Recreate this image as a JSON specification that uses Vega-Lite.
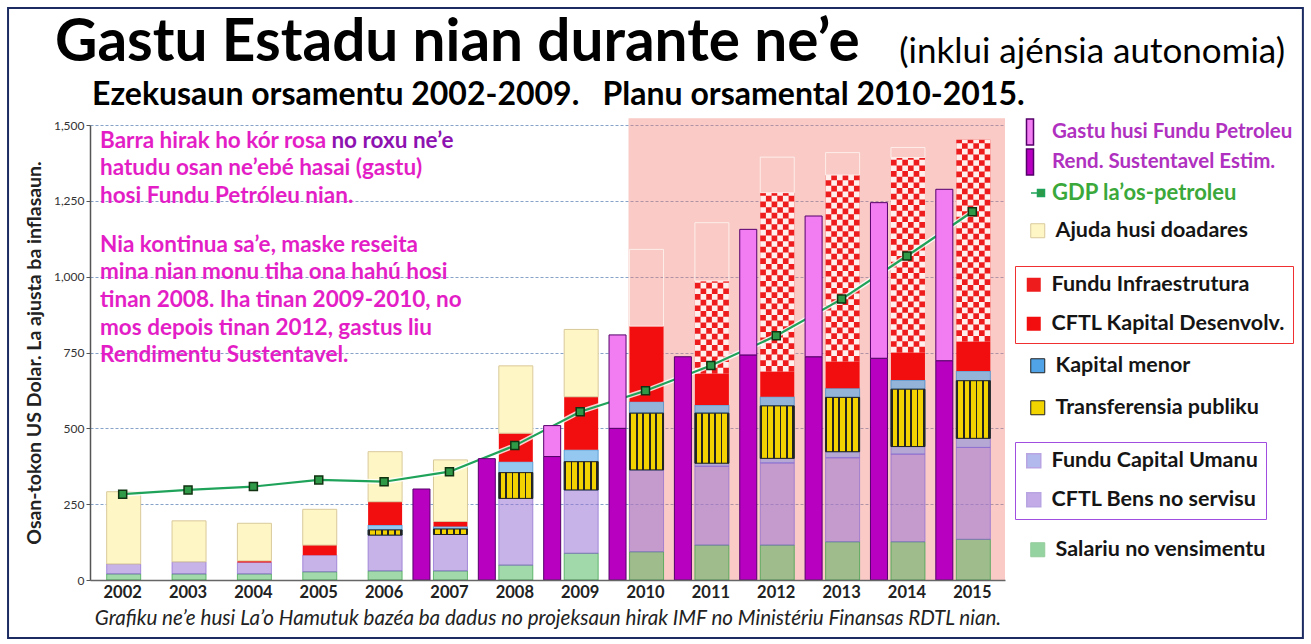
{
 "$schema": "https://vega.github.io/schema/vega-lite/v6.json",
 "width": 915,
 "height": 455,
 "autosize": {"type": "none"},
 "padding": {"left": 90, "top": 125, "right": 306, "bottom": 64},
 "background": "#ffffff",
 "config": {
  "view": {"stroke": null},
  "font": "Lato",
  "legend": {"labelFont": "Lato", "labelFontWeight": "bold", "labelFontSize": 21.5, "labelColor": "#151515", "labelLimit": 320, "symbolType": "square", "symbolSize": 196, "labelOffset": 7, "orient": "none", "direction": "vertical", "rowPadding": 16}
 },
 "data": {"values": [
  {"year": 2002, "sal": 20, "bens": 33, "fcu": 0, "trans": 0, "kmen": 0, "kdes": 0, "infra": 0, "ajuda": 238, "esi": 0, "oil": 0, "gdp": 283},
  {"year": 2003, "sal": 20, "bens": 40, "fcu": 0, "trans": 0, "kmen": 0, "kdes": 0, "infra": 0, "ajuda": 135, "esi": 0, "oil": 0, "gdp": 297},
  {"year": 2004, "sal": 20, "bens": 38, "fcu": 0, "trans": 0, "kmen": 0, "kdes": 5, "infra": 0, "ajuda": 124, "esi": 0, "oil": 0, "gdp": 308},
  {"year": 2005, "sal": 27, "bens": 55, "fcu": 0, "trans": 0, "kmen": 0, "kdes": 33, "infra": 0, "ajuda": 118, "esi": 0, "oil": 0, "gdp": 330},
  {"year": 2006, "sal": 30, "bens": 118, "fcu": 0, "trans": 17, "kmen": 16, "kdes": 77, "infra": 0, "ajuda": 165, "esi": 0, "oil": 0, "gdp": 324},
  {"year": 2007, "sal": 30, "bens": 120, "fcu": 0, "trans": 18, "kmen": 8, "kdes": 17, "infra": 0, "ajuda": 203, "esi": 300, "oil": 0, "gdp": 357},
  {"year": 2008, "sal": 49, "bens": 220, "fcu": 0, "trans": 85, "kmen": 36, "kdes": 94, "infra": 0, "ajuda": 222, "esi": 400, "oil": 0, "gdp": 443},
  {"year": 2009, "sal": 88, "bens": 209, "fcu": 0, "trans": 93, "kmen": 39, "kdes": 175, "infra": 0, "ajuda": 222, "esi": 407, "oil": 102, "gdp": 555},
  {"year": 2010, "sal": 93, "bens": 270, "fcu": 0, "trans": 187, "kmen": 38, "kdes": 249, "infra": 0, "ajuda": 253, "esi": 500, "oil": 308, "gdp": 624},
  {"year": 2011, "sal": 115, "bens": 260, "fcu": 10, "trans": 165, "kmen": 27, "kdes": 104, "infra": 305, "ajuda": 192, "esi": 736, "oil": 0, "gdp": 707},
  {"year": 2012, "sal": 115, "bens": 271, "fcu": 15, "trans": 173, "kmen": 30, "kdes": 83, "infra": 590, "ajuda": 117, "esi": 742, "oil": 414, "gdp": 805},
  {"year": 2013, "sal": 126, "bens": 277, "fcu": 20, "trans": 179, "kmen": 30, "kdes": 88, "infra": 615, "ajuda": 74, "esi": 736, "oil": 464, "gdp": 926},
  {"year": 2014, "sal": 126, "bens": 289, "fcu": 25, "trans": 189, "kmen": 30, "kdes": 91, "infra": 643, "ajuda": 33, "esi": 731, "oil": 513, "gdp": 1068},
  {"year": 2015, "sal": 134, "bens": 303, "fcu": 30, "trans": 190, "kmen": 32, "kdes": 97, "infra": 665, "ajuda": 0, "esi": 723, "oil": 565, "gdp": 1214}
 ]},
 "layer": [
  {
   "data": {"values": [{"year": 2010, "year2": 2015, "lo": 0, "hi": 1522}]},
   "mark": {"type": "rect", "fill": "#f07a70", "opacity": 0.4},
   "encoding": {
    "x": {"field": "year", "type": "ordinal", "bandPosition": 0.24,
     "scale": {"domain": [2002, 2003, 2004, 2005, 2006, 2007, 2008, 2009, 2010, 2011, 2012, 2013, 2014, 2015], "paddingInner": 0, "paddingOuter": 0},
     "axis": {"title": "Grafiku ne’e husi La’o Hamutuk bazéa ba dadus no projeksaun hirak IMF no Ministériu Finansas RDTL nian.", "titleFont": "Lato", "titleFontStyle": "italic", "titleFontWeight": "normal", "titleFontSize": 20.6, "titleColor": "#222222", "titlePadding": 8,
      "labelFont": "Lato", "labelFontWeight": "bold", "labelFontSize": 16.5, "labelColor": "#222222", "labelAngle": 0, "ticks": false, "labelPadding": 4, "domainColor": "#666666", "domainWidth": 1.5, "grid": false}},
    "x2": {"field": "year2", "bandPosition": 1},
    "y": {"field": "lo", "type": "quantitative",
     "scale": {"domain": [0, 1500], "nice": false},
     "axis": {"values": [0, 250, 500, 750, 1000, 1250, 1500], "format": ",.0f", "title": "Osan-tokon US Dolar. La ajusta ba inflasaun.", "titleFont": "Lato", "titleFontSize": 19.5, "titleFontWeight": "bold", "titleColor": "#222222", "titlePadding": 9,
      "labelFont": "Lato", "labelFontSize": 12, "labelColor": "#333333", "tickSize": 4, "tickColor": "#555555", "domainColor": "#555555", "domainWidth": 1.5, "grid": true, "gridColor": "#86a2c8", "gridDash": [3, 2], "gridWidth": 1}},
    "y2": {"field": "hi"}
   }
  },
  {
   "data": {"values": [{"year": 2002, "year2": 2015, "lo": -191, "hi": 1886}]},
   "mark": {"type": "rect", "fill": null, "stroke": "#1c2c62", "strokeWidth": 2},
   "encoding": {
    "x": {"field": "year", "type": "ordinal", "bandPosition": -1.254},
    "x2": {"field": "year2", "bandPosition": 5.558},
    "y": {"field": "lo", "type": "quantitative"},
    "y2": {"field": "hi"}
   }
  },
  {
   "transform": [
    {"fold": ["sal", "bens", "fcu", "trans", "kmen", "kdes", "infra", "ajuda"], "as": ["cat", "val"]},
    {"stack": "val", "groupby": ["year"], "as": ["v0", "v1"]},
    {"filter": "datum.val > 0 && datum.cat === 'sal'"}
   ],
   "mark": {"type": "bar", "width": 34, "xOffset": 1, "fillOpacity": 0.45, "stroke": "#35a045", "strokeWidth": 0.7},
   "encoding": {
    "x": {"field": "year", "type": "ordinal"},
    "y": {"field": "v0", "type": "quantitative"},
    "y2": {"field": "v1"},
    "fill": {"field": "cat", "type": "nominal", "scale": {"domain": ["sal"], "range": ["#2eaa44"]},
     "legend": {"title": null, "orient": "none", "legendX": 937, "legendY": 414, "labelExpr": "'Salariu no vensimentu'", "symbolOpacity": 0.5, "symbolStrokeColor": "#2a9a3a", "symbolStrokeWidth": 1}}
   }
  },
  {
   "transform": [
    {"fold": ["sal", "bens", "fcu", "trans", "kmen", "kdes", "infra", "ajuda"], "as": ["cat", "val"]},
    {"stack": "val", "groupby": ["year"], "as": ["v0", "v1"]},
    {"filter": "datum.val > 0 && (datum.cat === 'bens' || datum.cat === 'fcu')"}
   ],
   "mark": {"type": "bar", "width": 34, "xOffset": 1, "fillOpacity": 0.55, "stroke": "#8a6ad0", "strokeWidth": 0.7},
   "encoding": {
    "x": {"field": "year", "type": "ordinal"},
    "y": {"field": "v0", "type": "quantitative"},
    "y2": {"field": "v1"},
    "fill": {"field": "cat", "type": "nominal", "scale": {"domain": ["fcu", "bens"], "range": ["#7f8ce0", "#9a74d6"]},
     "legend": {"title": null, "orient": "none", "legendX": 925, "legendY": 317, "padding": 8, "strokeColor": "#a04ee0", "labelExpr": "datum.value === 'fcu' ? 'Fundu Capital Umanu' : 'CFTL Bens no servisu'", "symbolOpacity": 0.6}}
   }
  },
  {
   "transform": [
    {"fold": ["sal", "bens", "fcu", "trans", "kmen", "kdes", "infra", "ajuda"], "as": ["cat", "val"]},
    {"stack": "val", "groupby": ["year"], "as": ["v0", "v1"]},
    {"filter": "datum.val > 0 && (datum.cat === 'trans' || datum.cat === 'kmen')"}
   ],
   "mark": {"type": "bar", "width": 34, "xOffset": 1, "fillOpacity": 0.6, "stroke": "#3a86c8", "strokeWidth": 0.7},
   "encoding": {
    "x": {"field": "year", "type": "ordinal"},
    "y": {"field": "v0", "type": "quantitative"},
    "y2": {"field": "v1"},
    "fill": {"field": "cat", "type": "nominal", "scale": {"domain": ["kmen", "trans"], "range": ["#4fa3e6", "#f2d400"]},
     "legend": {"title": null, "orient": "none", "legendX": 937, "legendY": 230, "rowPadding": 19, "labelExpr": "datum.value === 'kmen' ? 'Kapital menor' : 'Transferensia publiku'", "symbolStrokeColor": "#222222", "symbolStrokeWidth": 1}}
   }
  },
  {
   "transform": [
    {"fold": ["sal", "bens", "fcu", "trans", "kmen", "kdes", "infra", "ajuda"], "as": ["cat", "val"]},
    {"stack": "val", "groupby": ["year"], "as": ["v0", "v1"]},
    {"filter": "datum.val > 0 && datum.cat === 'trans'"}
   ],
   "mark": {"type": "bar", "width": 34, "xOffset": 1, "stroke": "#222222", "strokeWidth": 1,
    "fill": {"gradient": "linear", "x1": 0, "y1": 0, "x2": 1, "y2": 0, "stops": [
     {"offset": 0, "color": "#222222"}, {"offset": 0.053, "color": "#222222"},
     {"offset": 0.053, "color": "#f2d200"}, {"offset": 0.189, "color": "#f2d200"},
     {"offset": 0.189, "color": "#222222"}, {"offset": 0.242, "color": "#222222"},
     {"offset": 0.242, "color": "#f2d200"}, {"offset": 0.378, "color": "#f2d200"},
     {"offset": 0.378, "color": "#222222"}, {"offset": 0.431, "color": "#222222"},
     {"offset": 0.431, "color": "#f2d200"}, {"offset": 0.567, "color": "#f2d200"},
     {"offset": 0.567, "color": "#222222"}, {"offset": 0.62, "color": "#222222"},
     {"offset": 0.62, "color": "#f2d200"}, {"offset": 0.756, "color": "#f2d200"},
     {"offset": 0.756, "color": "#222222"}, {"offset": 0.809, "color": "#222222"},
     {"offset": 0.809, "color": "#f2d200"}, {"offset": 0.945, "color": "#f2d200"},
     {"offset": 0.945, "color": "#222222"}, {"offset": 1, "color": "#222222"}]}},
   "encoding": {
    "x": {"field": "year", "type": "ordinal"},
    "y": {"field": "v0", "type": "quantitative"},
    "y2": {"field": "v1"}
   }
  },
  {
   "transform": [
    {"fold": ["sal", "bens", "fcu", "trans", "kmen", "kdes", "infra", "ajuda"], "as": ["cat", "val"]},
    {"stack": "val", "groupby": ["year"], "as": ["v0", "v1"]},
    {"filter": "datum.val > 0 && (datum.cat === 'kdes' || datum.cat === 'infra')"}
   ],
   "mark": {"type": "bar", "width": 34, "xOffset": 1},
   "encoding": {
    "x": {"field": "year", "type": "ordinal"},
    "y": {"field": "v0", "type": "quantitative"},
    "y2": {"field": "v1"},
    "fill": {"field": "cat", "type": "nominal", "scale": {"domain": ["infra", "kdes"], "range": ["#ee1c1c", "#f20e0e"]},
     "legend": {"title": null, "orient": "none", "legendX": 925, "legendY": 141, "padding": 8, "strokeColor": "#f03030", "labelExpr": "datum.value === 'infra' ? 'Fundu Infraestrutura' : 'CFTL Kapital Desenvolv.'"}}
   }
  },
  {
   "transform": [
    {"fold": ["sal", "bens", "fcu", "trans", "kmen", "kdes", "infra", "ajuda"], "as": ["cat", "val"]},
    {"stack": "val", "groupby": ["year"], "as": ["v0", "v1"]},
    {"filter": "datum.val > 0 && datum.cat === 'infra'"}
   ],
   "mark": {"type": "rule", "stroke": "#fff0ee", "strokeWidth": 5.67, "strokeDash": [5.67, 5.67], "strokeDashOffset": 0, "xOffset": -13.17},
   "encoding": {"x": {"field": "year", "type": "ordinal"}, "y": {"field": "v0", "type": "quantitative"}, "y2": {"field": "v1"}}
  },
  {
   "transform": [
    {"fold": ["sal", "bens", "fcu", "trans", "kmen", "kdes", "infra", "ajuda"], "as": ["cat", "val"]},
    {"stack": "val", "groupby": ["year"], "as": ["v0", "v1"]},
    {"filter": "datum.val > 0 && datum.cat === 'infra'"}
   ],
   "mark": {"type": "rule", "stroke": "#fff0ee", "strokeWidth": 5.67, "strokeDash": [5.67, 5.67], "strokeDashOffset": 5.67, "xOffset": -7.5},
   "encoding": {"x": {"field": "year", "type": "ordinal"}, "y": {"field": "v0", "type": "quantitative"}, "y2": {"field": "v1"}}
  },
  {
   "transform": [
    {"fold": ["sal", "bens", "fcu", "trans", "kmen", "kdes", "infra", "ajuda"], "as": ["cat", "val"]},
    {"stack": "val", "groupby": ["year"], "as": ["v0", "v1"]},
    {"filter": "datum.val > 0 && datum.cat === 'infra'"}
   ],
   "mark": {"type": "rule", "stroke": "#fff0ee", "strokeWidth": 5.67, "strokeDash": [5.67, 5.67], "strokeDashOffset": 0, "xOffset": -1.83},
   "encoding": {"x": {"field": "year", "type": "ordinal"}, "y": {"field": "v0", "type": "quantitative"}, "y2": {"field": "v1"}}
  },
  {
   "transform": [
    {"fold": ["sal", "bens", "fcu", "trans", "kmen", "kdes", "infra", "ajuda"], "as": ["cat", "val"]},
    {"stack": "val", "groupby": ["year"], "as": ["v0", "v1"]},
    {"filter": "datum.val > 0 && datum.cat === 'infra'"}
   ],
   "mark": {"type": "rule", "stroke": "#fff0ee", "strokeWidth": 5.67, "strokeDash": [5.67, 5.67], "strokeDashOffset": 5.67, "xOffset": 3.83},
   "encoding": {"x": {"field": "year", "type": "ordinal"}, "y": {"field": "v0", "type": "quantitative"}, "y2": {"field": "v1"}}
  },
  {
   "transform": [
    {"fold": ["sal", "bens", "fcu", "trans", "kmen", "kdes", "infra", "ajuda"], "as": ["cat", "val"]},
    {"stack": "val", "groupby": ["year"], "as": ["v0", "v1"]},
    {"filter": "datum.val > 0 && datum.cat === 'infra'"}
   ],
   "mark": {"type": "rule", "stroke": "#fff0ee", "strokeWidth": 5.67, "strokeDash": [5.67, 5.67], "strokeDashOffset": 0, "xOffset": 9.5},
   "encoding": {"x": {"field": "year", "type": "ordinal"}, "y": {"field": "v0", "type": "quantitative"}, "y2": {"field": "v1"}}
  },
  {
   "transform": [
    {"fold": ["sal", "bens", "fcu", "trans", "kmen", "kdes", "infra", "ajuda"], "as": ["cat", "val"]},
    {"stack": "val", "groupby": ["year"], "as": ["v0", "v1"]},
    {"filter": "datum.val > 0 && datum.cat === 'infra'"}
   ],
   "mark": {"type": "rule", "stroke": "#fff0ee", "strokeWidth": 5.67, "strokeDash": [5.67, 5.67], "strokeDashOffset": 5.67, "xOffset": 15.17},
   "encoding": {"x": {"field": "year", "type": "ordinal"}, "y": {"field": "v0", "type": "quantitative"}, "y2": {"field": "v1"}}
  },
  {
   "transform": [
    {"fold": ["sal", "bens", "fcu", "trans", "kmen", "kdes", "infra", "ajuda"], "as": ["cat", "val"]},
    {"stack": "val", "groupby": ["year"], "as": ["v0", "v1"]},
    {"filter": "datum.val > 0 && datum.cat === 'ajuda'"}
   ],
   "mark": {"type": "bar", "width": 34, "xOffset": 1, "strokeWidth": 1},
   "encoding": {
    "x": {"field": "year", "type": "ordinal"},
    "y": {"field": "v0", "type": "quantitative"},
    "y2": {"field": "v1"},
    "fill": {"condition": {"test": "datum.year >= 2010", "value": "transparent"}, "field": "cat", "type": "nominal", "scale": {"domain": ["ajuda"], "range": ["#fff6c6"]},
     "legend": {"title": null, "orient": "none", "legendX": 937, "legendY": 95, "labelExpr": "'Ajuda husi doadares'", "symbolStrokeColor": "#d9c99a", "symbolStrokeWidth": 1}},
    "stroke": {"condition": {"test": "datum.year >= 2010", "value": "#fdeeea"}, "value": "#d9c99a"}
   }
  },
  {
   "mark": {"type": "line", "stroke": "#ffffff", "strokeWidth": 5, "opacity": 0.8},
   "encoding": {"x": {"field": "year", "type": "ordinal"}, "y": {"field": "gdp", "type": "quantitative"}}
  },
  {
   "mark": {"type": "line", "strokeWidth": 2.2},
   "encoding": {
    "x": {"field": "year", "type": "ordinal"},
    "y": {"field": "gdp", "type": "quantitative"},
    "stroke": {"datum": "GDP la’os-petroleu", "scale": {"range": ["#1fa35a"]},
     "legend": {"title": null, "orient": "none", "legendX": 940, "legendY": 57, "symbolType": "M-1,0H-0.35M-0.35,-0.35H0.35V0.35H-0.35Z", "symbolSize": 400, "symbolStrokeColor": "#113311", "symbolFillColor": "#2e9a48", "symbolStrokeWidth": 1.5, "labelOffset": 0, "labelColor": "#3aa83a", "labelFontSize": 22}}
   }
  },
  {
   "mark": {"type": "point", "shape": "square", "filled": true, "size": 64, "fill": "#2e9a48", "stroke": "#113311", "strokeWidth": 1.5, "opacity": 1},
   "encoding": {"x": {"field": "year", "type": "ordinal"}, "y": {"field": "gdp", "type": "quantitative"}}
  },
  {
   "transform": [
    {"fold": ["esi", "oil"], "as": ["ocat", "oval"]},
    {"stack": "oval", "groupby": ["year"], "as": ["o0", "o1"]},
    {"filter": "datum.oval > 0"}
   ],
   "mark": {"type": "bar", "width": 17, "xOffset": -28, "stroke": "#55006a", "strokeWidth": 1},
   "encoding": {
    "x": {"field": "year", "type": "ordinal"},
    "y": {"field": "o0", "type": "quantitative"},
    "y2": {"field": "o1"},
    "fill": {"field": "ocat", "type": "nominal", "scale": {"domain": ["oil", "esi"], "range": ["#f27cf2", "#b800c0"]},
     "legend": {"title": null, "orient": "none", "legendX": 926, "legendY": -7, "symbolType": "M-0.27,-1H0.27V1H-0.27Z", "symbolSize": 676, "rowPadding": -4, "labelOffset": 8, "labelFontSize": 20.5, "labelColor": "#b030c0",
      "labelExpr": "datum.value === 'oil' ? 'Gastu husi Fundu Petroleu' : 'Rend. Sustentavel Estim.'",
      "encode": {"labels": {"update": {"fill": {"signal": "datum.value === 'oil' ? '#d24ee0' : '#9a00b0'"}}}}}}
   }
  },
  {
   "data": {"values": [
    {"year": 2002, "v": 1425, "note": "Barra hirak ho kór rosa\nhatudu osan ne’ebé hasai (gastu)\nhosi Fundu Petróleu nian."},
    {"year": 2002, "v": 1082, "note": "Nia kontinua sa’e, maske reseita\nmina nian monu tiha ona hahú hosi\ntinan 2008. Iha tinan 2009-2010, no\nmos depois tinan 2012, gastus liu\nRendimentu Sustentavel."}
   ]},
   "mark": {"type": "text", "align": "left", "baseline": "alphabetic", "font": "Lato", "fontWeight": "bold", "fontSize": 22.5, "fill": "#e41ec6", "lineBreak": "\n", "lineHeight": 27.6, "dx": 10},
   "encoding": {
    "x": {"field": "year", "type": "ordinal", "bandPosition": 0},
    "y": {"field": "v", "type": "quantitative"},
    "text": {"field": "note"}
   }
  },
  {
   "data": {"values": [{"year": 2006, "v": 1425, "note": "no roxu ne’e"}]},
   "mark": {"type": "text", "align": "left", "baseline": "alphabetic", "font": "Lato", "fontWeight": "bold", "fontSize": 22.5, "fill": "#8e12b0", "dx": -20},
   "encoding": {
    "x": {"field": "year", "type": "ordinal", "bandPosition": 0},
    "y": {"field": "v", "type": "quantitative"},
    "text": {"field": "note"}
   }
  },
  {
   "data": {"values": [{"year": 2002, "v": 1711, "note": "Gastu Estadu nian durante ne’e"}]},
   "mark": {"type": "text", "align": "left", "baseline": "alphabetic", "font": "Lato", "fontWeight": "bold", "fontSize": 58.5, "fill": "#000000", "dx": -35},
   "encoding": {
    "x": {"field": "year", "type": "ordinal", "bandPosition": 0},
    "y": {"field": "v", "type": "quantitative"},
    "text": {"field": "note"}
   }
  },
  {
   "data": {"values": [{"year": 2002, "v": 1566, "note": "Ezekusaun orsamentu 2002-2009.\u00a0\u00a0\u00a0Planu orsamental 2010-2015."}]},
   "mark": {"type": "text", "align": "left", "baseline": "alphabetic", "font": "Lato", "fontWeight": "bold", "fontSize": 32, "fill": "#000000", "dx": 2},
   "encoding": {
    "x": {"field": "year", "type": "ordinal", "bandPosition": 0},
    "y": {"field": "v", "type": "quantitative"},
    "text": {"field": "note"}
   }
  },
  {
   "data": {"values": [{"year": 2015, "v": 1705, "note": "(inklui ajénsia autonomia)"}]},
   "mark": {"type": "text", "align": "right", "baseline": "alphabetic", "font": "Lato", "fontSize": 35, "fill": "#000000", "dx": 280},
   "encoding": {
    "x": {"field": "year", "type": "ordinal", "bandPosition": 1},
    "y": {"field": "v", "type": "quantitative"},
    "text": {"field": "note"}
   }
  }
 ],
 "resolve": {"scale": {"fill": "independent", "stroke": "independent"}}
}
